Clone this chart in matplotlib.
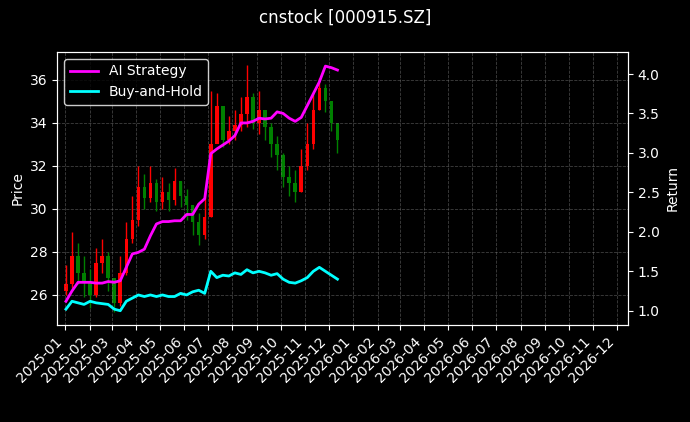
import matplotlib
matplotlib.use("Agg")
import matplotlib.pyplot as plt
import matplotlib.dates as mdates
import pandas as pd

# ─── DATA (weekly) ───────────────────────────────────────────────────────────
closes = [26.5, 27.8, 27.0, 26.6, 26.0, 27.5, 27.8, 26.8, 25.6, 27.0, 28.6, 29.5,
          31.0, 30.5, 31.2, 30.3, 30.8, 30.4, 31.3, 30.6, 30.2, 29.4, 28.8, 29.6,
          33.0, 34.8, 33.2, 33.6, 33.9, 34.4, 35.2, 34.0, 34.6, 33.8, 33.0, 32.5,
          31.5, 31.2, 30.8, 32.0, 33.0, 34.6, 35.6, 35.0, 34.0, 33.2]
highs = [27.4, 28.9, 28.4, 27.8, 27.2, 28.2, 28.6, 28.0, 26.8, 27.8, 29.4, 30.6,
         32.0, 31.6, 32.0, 31.4, 31.5, 31.2, 31.9, 31.3, 30.9, 30.2, 29.8, 30.8,
         35.5, 35.4, 34.5, 34.3, 34.6, 35.2, 36.7, 35.4, 35.5, 34.6, 34.0, 33.4,
         32.6, 32.0, 31.8, 32.8, 34.0, 35.4, 36.1, 35.8, 35.0, 33.8]
lows = [26.0, 26.3, 26.5, 25.9, 25.4, 25.9, 27.0, 26.2, 25.2, 25.5, 26.9, 28.4,
        29.2, 30.0, 30.3, 29.9, 30.0, 29.9, 30.2, 30.1, 29.5, 28.8, 28.3, 28.6,
        29.6, 33.2, 32.9, 33.0, 33.2, 33.6, 33.8, 33.7, 33.5, 33.2, 32.4, 31.8,
        31.0, 30.6, 30.3, 30.8, 31.8, 32.8, 34.6, 34.5, 33.6, 32.6]
ai_ret = [1.12, 1.25, 1.36, 1.36, 1.36, 1.35, 1.35, 1.37, 1.36, 1.38, 1.55, 1.72,
          1.74, 1.78, 1.95, 2.10, 2.13, 2.13, 2.14, 2.14, 2.22, 2.22, 2.35, 2.42,
          2.99, 3.05, 3.10, 3.15, 3.22, 3.38, 3.38, 3.40, 3.44, 3.43, 3.44, 3.52,
          3.50, 3.44, 3.40, 3.45, 3.60, 3.75, 3.90, 4.10, 4.08, 4.05]
bh_ret = [1.02, 1.12, 1.10, 1.08, 1.12, 1.10, 1.09, 1.08, 1.02, 1.00, 1.12, 1.16,
          1.20, 1.18, 1.20, 1.18, 1.20, 1.18, 1.18, 1.22, 1.20, 1.24, 1.26, 1.22,
          1.50, 1.42, 1.45, 1.44, 1.48, 1.46, 1.52, 1.48, 1.50, 1.48, 1.45, 1.47,
          1.40, 1.36, 1.35, 1.38, 1.42, 1.50, 1.55, 1.50, 1.45, 1.40]
dates = pd.date_range("2025-01-02", "2025-12-12", periods=len(closes))
opens = [closes[0] - 0.3] + closes[:-1]

plt.style.use("dark_background")
fig, ax = plt.subplots(figsize=(6.9, 4.22), dpi=100)
fig.subplots_adjust(left=0.083, right=0.91, top=0.877, bottom=0.23)

# ─── candles: red up, green down ─────────────────────────────────────────────
for d, o, h, l, c in zip(dates, opens, highs, lows, closes):
    col = "red" if c >= o else "green"
    ax.vlines(d, l, h, color=col, linewidth=1)
    ax.bar(d, abs(c - o) or 0.05, bottom=min(o, c), width=4.5, color=col)

ax.set_ylabel("Price")
ax.set_ylim(24.6, 37.3)
ax.grid(True, linestyle="--", color="gray", alpha=0.5, linewidth=0.6)

ax2 = ax.twinx()
ax2.plot(dates, ai_ret, color="magenta", linewidth=2, label="AI Strategy")
ax2.plot(dates, bh_ret, color="cyan", linewidth=2, label="Buy-and-Hold")
ax2.set_ylim(0.82, 4.28)
ax2.set_ylabel("Return")
ax2.legend(loc="upper left", edgecolor="white", facecolor="black")

ax.set_xlim(pd.Timestamp("2024-12-22"), pd.Timestamp("2026-12-15"))
ax.xaxis.set_major_locator(mdates.MonthLocator())
ax.xaxis.set_major_formatter(mdates.DateFormatter("%Y-%m"))
plt.setp(ax.get_xticklabels(), rotation=45, ha="right")

fig.suptitle("cnstock [000915.SZ]")
plt.savefig("out.png")
